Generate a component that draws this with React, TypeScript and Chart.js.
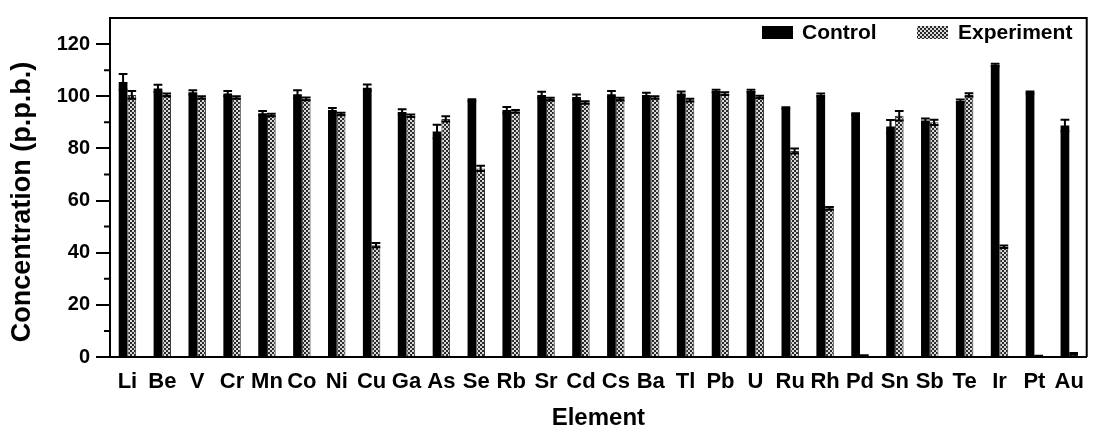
import React, { useEffect, useRef } from "react";
import { Chart, registerables } from "chart.js";

Chart.register(...registerables);

const ELEMENTS = ["Li","Be","V","Cr","Mn","Co","Ni","Cu","Ga","As","Se","Rb","Sr","Cd","Cs","Ba","Tl","Pb","U","Ru","Rh","Pd","Sn","Sb","Te","Ir","Pt","Au"];
const CONTROL = [105.5,103,101.5,101,93.5,100.8,94.7,103.3,94,86.5,98.5,94.7,100.5,99.7,100.8,100.5,101,102,102,95.5,100.5,93.2,88.4,90.7,98.2,112,101.4,88.8];
const CONTROL_ERR = [3,1.4,0.8,1,0.8,1.5,0.8,1.2,1,2.6,0.3,1.2,1.2,1,1.2,0.8,0.8,0.5,0.5,0.3,0.5,0.3,2.5,0.8,0.5,0.5,0.4,2.2];
const EXPERIMENT = [100.5,100.5,99.5,99.5,92.8,99,93.2,42.9,92.5,91.3,72.3,94.2,98.9,97.6,98.9,99.5,98.5,101,99.7,79,57,0.5,92.5,90,100.5,42.3,0.3,1.2];
const EXPERIMENT_ERR = [1.5,0.5,0.5,0.5,0.5,0.5,0.5,0.8,0.5,1,1,0.5,0.5,0.5,0.5,0.5,0.5,0.5,0.5,1,0.5,0.2,1.8,1,0.6,0.5,0.2,0.3];
const SERIES_NAMES = ["Control", "Experiment"];
const Y_MAJOR_TICKS = [0, 20, 40, 60, 80, 100, 120];
const Y_MINOR_TICKS = [10, 30, 50, 70, 90, 110];
const Y_MIN = 0;
const Y_MAX = 130;
const X_TITLE = "Element";
const Y_TITLE = "Concentration (p.p.b.)";

const FONT = "'Liberation Sans', Arial, Helvetica, sans-serif";

function makePattern(): CanvasPattern | string {
  const c = document.createElement("canvas");
  c.width = 4;
  c.height = 4;
  const g = c.getContext("2d");
  if (!g) return "#777";
  g.fillStyle = "#d8d8d8";
  g.fillRect(0, 0, 4, 4);
  g.fillStyle = "#2a2a2a";
  g.fillRect(0, 0, 2, 2);
  g.fillRect(2, 2, 2, 2);
  const p = g.createPattern(c, "repeat");
  return p || "#777";
}

export default function App() {
  const ref = useRef<HTMLCanvasElement | null>(null);

  useEffect(() => {
    document.body.style.margin = "0";
    const canvas = ref.current;
    if (!canvas) return;
    const pattern = makePattern();
    const errors = [CONTROL_ERR, EXPERIMENT_ERR];

    const errorBars = {
      id: "errorBars",
      afterDatasetsDraw(chart: any) {
        const ctx = chart.ctx;
        const ys = chart.scales.y;
        ctx.save();
        ctx.strokeStyle = "#000";
        ctx.lineWidth = 2;
        chart.data.datasets.forEach((ds: any, i: number) => {
          const meta = chart.getDatasetMeta(i);
          meta.data.forEach((el: any, j: number) => {
            const v = ds.data[j];
            const e = errors[i][j];
            const top = ys.getPixelForValue(v + e);
            const bot = ys.getPixelForValue(Math.max(0, v - e));
            const half = el.width / 2;
            ctx.beginPath();
            ctx.moveTo(el.x, top);
            ctx.lineTo(el.x, bot);
            ctx.moveTo(el.x - half, top);
            ctx.lineTo(el.x + half, top);
            ctx.moveTo(el.x - half, bot);
            ctx.lineTo(el.x + half, bot);
            ctx.stroke();
          });
        });
        ctx.restore();
      },
    };

    const frame = {
      id: "frame",
      afterDraw(chart: any) {
        const ctx = chart.ctx;
        const a = chart.chartArea;
        const ys = chart.scales.y;
        ctx.save();
        ctx.strokeStyle = "#000";
        ctx.lineWidth = 2;
        ctx.beginPath();
        ctx.moveTo(a.left, a.top);
        ctx.lineTo(a.right, a.top);
        ctx.lineTo(a.right, a.bottom);
        ctx.stroke();
        // minor ticks
        ctx.beginPath();
        Y_MINOR_TICKS.forEach((v) => {
          const y = ys.getPixelForValue(v);
          ctx.moveTo(a.left - 6, y);
          ctx.lineTo(a.left, y);
        });
        ctx.stroke();
        // y axis title
        ctx.save();
        ctx.translate(23, 202);
        ctx.rotate(-Math.PI / 2);
        ctx.font = `bold 27px ${FONT}`;
        ctx.textAlign = "center";
        ctx.textBaseline = "middle";
        ctx.fillStyle = "#000";
        ctx.fillText(Y_TITLE, 0, 0);
        ctx.restore();
        // legend
        ctx.font = `bold 21px ${FONT}`;
        ctx.textBaseline = "middle";
        ctx.textAlign = "left";
        ctx.fillStyle = "#000";
        const legendPos = [
          { bx: 762, tx: 802 },
          { bx: 917, tx: 958 },
        ];
        chart.data.datasets.forEach((ds: any, i: number) => {
          const p = legendPos[i];
          ctx.fillStyle = ds.backgroundColor;
          ctx.fillRect(p.bx, 26, 31, 13);
          ctx.fillStyle = "#000";
          ctx.fillText(ds.label, p.tx, 33);
        });
        ctx.restore();
      },
    };

    const chart = new Chart(canvas, {
      type: "bar",
      data: {
        labels: ELEMENTS,
        datasets: [
          {
            label: SERIES_NAMES[0],
            data: CONTROL,
            backgroundColor: "#000",
            borderColor: "#000",
            borderWidth: 0,
            categoryPercentage: 0.5,
            barPercentage: 1,
          },
          {
            label: SERIES_NAMES[1],
            data: EXPERIMENT,
            backgroundColor: pattern as any,
            borderColor: "#333",
            borderWidth: 1,
            categoryPercentage: 0.5,
            barPercentage: 1,
          },
        ],
      },
      options: {
        responsive: false,
        animation: false,
        devicePixelRatio: 1,
        layout: { padding: { top: 13, right: 3, left: 0, bottom: 0 } },
        plugins: {
          legend: { display: false },
          tooltip: { enabled: false },
        },
        scales: {
          x: {
            grid: { display: false, drawTicks: false },
            border: { display: true, color: "#000", width: 2 },
            ticks: {
              color: "#000",
              font: { family: FONT, size: 22, weight: "bold" },
              padding: 12,
              maxRotation: 0,
              autoSkip: false,
            },
            title: {
              display: true,
              text: X_TITLE,
              color: "#000",
              font: { family: FONT, size: 24, weight: "bold" },
              padding: { top: 0, bottom: 1 },
            },
            afterFit: (s: any) => {
              s.height = 77;
            },
          },
          y: {
            min: Y_MIN,
            max: Y_MAX,
            grid: {
              drawOnChartArea: false,
              drawTicks: true,
              tickLength: 14,
              color: "#000",
              lineWidth: 2,
            },
            border: { display: true, color: "#000", width: 2 },
            afterBuildTicks: (s: any) => {
              s.ticks = Y_MAJOR_TICKS.map((v) => ({ value: v }));
            },
            ticks: {
              color: "#000",
              font: { family: FONT, size: 20, weight: "bold" },
              padding: 6,
            },
            title: { display: false },
            afterFit: (s: any) => {
              s.width = 110;
            },
          },
        },
      },
      plugins: [errorBars, frame],
    });

    return () => chart.destroy();
  }, []);

  return (
    <div style={{ width: 1096, height: 434, background: "#fff" }}>
      <canvas ref={ref} width={1096} height={434} />
    </div>
  );
}
